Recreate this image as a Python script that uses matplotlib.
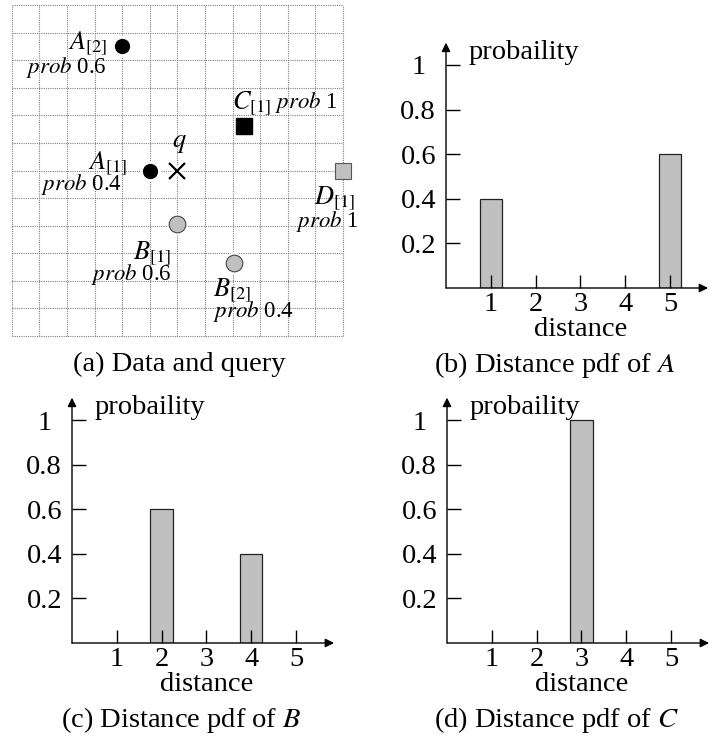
import matplotlib
matplotlib.use("Agg")
import matplotlib.pyplot as plt

plt.rcParams['font.family'] = ['Liberation Serif', 'DejaVu Serif']
plt.rcParams['mathtext.fontset'] = 'stix'

# donnees du panneau (a): objets et requete sur une grille 12x12
grid_size = 12
black_pts_x = [4.0, 5.0]          # A[2], A[1]
black_pts_y = [10.5, 6.0]
gray_pts_x = [6.0, 8.05]          # B[1], B[2]
gray_pts_y = [4.05, 2.65]
black_sq_x = [8.4]                # C[1]
black_sq_y = [7.6]
gray_sq_x = [12.0]                # D[1]
gray_sq_y = [6.0]
query_x = [6.0]
query_y = [6.0]

# distributions de distance
distances = [1, 2, 3, 4, 5]
pdf_A = [0.4, 0, 0, 0, 0.6]
pdf_B = [0, 0.6, 0, 0.4, 0]
pdf_C = [0, 0, 1.0, 0, 0]
ytick_vals = [0.2, 0.4, 0.6, 0.8, 1.0]
ytick_labels = ['0.2', '0.4', '0.6', '0.8', '1']

W, H = 709, 744
fig = plt.figure(figsize=(W / 100, H / 100), dpi=100)


def px_axes(left, top, right, bottom):
    return fig.add_axes([left / W, 1 - bottom / H, (right - left) / W, (bottom - top) / H])


# ---------- panneau (a)
ax = px_axes(11.7, 5, 343, 336)
ax.set_xlim(0, grid_size)
ax.set_ylim(0, grid_size)
ax.set_xticks(range(grid_size + 1))
ax.set_yticks(range(grid_size + 1))
ax.tick_params(length=0, labelbottom=False, labelleft=False)
ax.grid(True, color='#808080', linestyle=(0, (1, 1)), linewidth=0.8)
for gl in ax.get_xgridlines() + ax.get_ygridlines():
    gl.set_clip_on(False)
for s in ax.spines.values():
    s.set_visible(False)

ax.plot(black_pts_x, black_pts_y, 'o', ms=13, mfc='black', mec='white', mew=2, clip_on=False, zorder=3)
ax.plot(gray_pts_x, gray_pts_y, 'o', ms=14.5, mfc='white', mec='white', clip_on=False, zorder=3)
ax.plot(gray_pts_x, gray_pts_y, 'o', ms=12, mfc='#c0c0c0', mec='#444444', mew=0.8, clip_on=False, zorder=4)
ax.plot(black_sq_x, black_sq_y, 's', ms=11.5, mfc='black', mec='black', clip_on=False, zorder=3)
ax.plot(gray_sq_x, gray_sq_y, 's', ms=11, mfc='#c0c0c0', mec='#555555', mew=0.8, clip_on=False, zorder=3)
ax.plot(query_x, query_y, 'x', ms=13, mec='white', mew=4.5, clip_on=False, zorder=3)
ax.plot(query_x, query_y, 'x', ms=12, mec='black', mew=1.6, clip_on=False, zorder=4)

fs_lab, fs_prob = 19, 16.5
ax.text(3.45, 10.62, r'$A_{[2]}$', fontsize=fs_lab, ha='right', va='center')
ax.text(3.45, 9.75, r'$\mathit{prob}$ 0.6', fontsize=fs_prob, ha='right', va='center')
ax.text(7.98, 8.45, r'$C_{[1]}$', fontsize=fs_lab, ha='left', va='center')
ax.text(9.55, 8.45, r'$\mathit{prob}$ 1', fontsize=fs_prob, ha='left', va='center')
ax.text(6.06, 6.95, r'$q$', fontsize=fs_lab, ha='center', va='center')
ax.text(4.2, 6.28, r'$A_{[1]}$', fontsize=fs_lab, ha='right', va='center')
ax.text(4.0, 5.48, r'$\mathit{prob}$ 0.4', fontsize=fs_prob, ha='right', va='center')
ax.text(12.44, 5.0, r'$D_{[1]}$', fontsize=fs_lab, ha='right', va='center')
ax.text(12.55, 4.14, r'$\mathit{prob}$ 1', fontsize=fs_prob, ha='right', va='center')
ax.text(5.77, 3.01, r'$B_{[1]}$', fontsize=fs_lab, ha='right', va='center')
ax.text(5.8, 2.22, r'$\mathit{prob}$ 0.6', fontsize=fs_prob, ha='right', va='center')
ax.text(7.3, 1.67, r'$B_{[2]}$', fontsize=fs_lab, ha='left', va='center')
ax.text(7.3, 0.88, r'$\mathit{prob}$ 0.4', fontsize=fs_prob, ha='left', va='center')

fig.text(179 / W, 1 - 364 / H, '(a) Data and query', fontsize=20.5, ha='center', va='center')

# ---------- panneaux de distribution
sx, sy = 44.8, 223
xmax, ymax = 5.85, 1.1
fs = 20.5


def pdf_panel(ox, oy, values, caption):
    a = px_axes(ox, oy - ymax * sy, ox + xmax * sx, oy)
    a.set_xlim(0, xmax)
    a.set_ylim(0, ymax)
    xs = [d for d, v in zip(distances, values) if v > 0]
    hs = [v for v in values if v > 0]
    a.bar(xs, hs, width=0.5, color='#c0c0c0', edgecolor='#222222', linewidth=0.9)
    for s in a.spines.values():
        s.set_visible(False)
    arrow = dict(arrowstyle='-|>', color='black', lw=1.0, mutation_scale=13, shrinkA=0, shrinkB=0)
    a.annotate('', xy=(1, 0), xytext=(0, 0), xycoords='axes fraction', arrowprops=arrow)
    a.annotate('', xy=(0, 1), xytext=(0, 0), xycoords='axes fraction', arrowprops=arrow)
    a.set_xticks(distances)
    a.set_yticks(ytick_vals)
    a.set_yticklabels(ytick_labels)
    a.tick_params(axis='x', direction='in', length=9.5, width=1, labelsize=fs, pad=3)
    a.tick_params(axis='y', direction='in', length=10, width=1, labelsize=fs, pad=20)
    for lab in a.get_yticklabels():
        lab.set_ha('center')
    a.text(0.5, 1.055, 'probaility', fontsize=fs, ha='left', va='center')
    a.text(3.0, -0.185, 'distance', fontsize=fs, ha='center', va='center')
    fig.text((ox + 109) / W, 1 - (oy + 77) / H, caption, fontsize=fs, ha='center', va='center')
    return a


pdf_panel(446, 288, pdf_A, r'(b) Distance pdf of $A$')
pdf_panel(72, 643, pdf_B, r'(c) Distance pdf of $B$')
pdf_panel(447, 643, pdf_C, r'(d) Distance pdf of $C$')

fig.savefig('out.png', dpi=100)
